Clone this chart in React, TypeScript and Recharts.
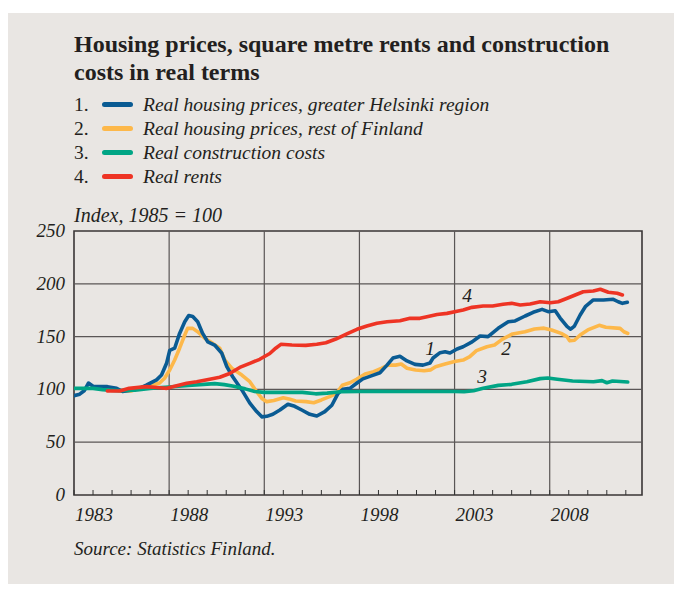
import React from 'react';
import { LineChart, Line, XAxis, YAxis, ReferenceLine, ReferenceArea, ReferenceDot } from 'recharts';

const helsinkiYears = [1983.0, 1983.3, 1983.55, 1983.76, 1984.0, 1984.24, 1984.76, 1985.24, 1985.55, 1986.08, 1986.5, 1986.8, 1987.34, 1987.6, 1987.87, 1988.03, 1988.29, 1988.55, 1988.82, 1989.03, 1989.24, 1989.5, 1989.76, 1990.03, 1990.39, 1990.76, 1991.03, 1991.34, 1991.82, 1992.24, 1992.6, 1992.87, 1993.13, 1993.45, 1993.82, 1994.24, 1994.6, 1994.97, 1995.39, 1995.76, 1996.18, 1996.55, 1996.87, 1997.13, 1997.5, 1997.87, 1998.18, 1998.66, 1999.08, 1999.45, 1999.76, 2000.13, 2000.5, 2000.92, 2001.34, 2001.71, 2001.87, 2002.24, 2002.5, 2002.76, 2003.13, 2003.45, 2003.92, 2004.34, 2004.76, 2005.29, 2005.82, 2006.18, 2006.71, 2007.13, 2007.6, 2007.92, 2008.29, 2008.55, 2008.92, 2009.1, 2009.3, 2009.6, 2009.87, 2010.29, 2010.82, 2011.34, 2011.6, 2011.82, 2012.08];
const helsinkiValues = [94, 95.5, 99, 106, 103, 102.6, 102.6, 101, 98, 99.5, 101.5, 104, 109, 113.6, 125, 137, 139, 153, 164, 170, 169, 164, 153, 145, 142, 134.5, 121.5, 112, 99.5, 87, 79, 74, 74.5, 76.5, 80.5, 86, 84, 80.5, 76.4, 74.8, 78.9, 85, 96, 100, 101, 106, 110, 113, 115.8, 123, 129.7, 131.3, 127, 123.7, 123, 125, 129.7, 134.8, 135.7, 134.5, 138.3, 140.4, 145, 150.6, 150, 157.8, 164, 164.8, 169.5, 173, 175.8, 173.6, 174.5, 167.6, 159.4, 157, 160, 170.5, 178.3, 184.7, 184.7, 185.3, 183, 181.5, 182.5];

const finlandYears = [1984.5, 1985.0, 1985.4, 1986.0, 1986.6, 1987.1, 1987.5, 1987.76, 1988.03, 1988.29, 1988.55, 1988.82, 1988.97, 1989.24, 1989.5, 1989.87, 1990.29, 1990.66, 1990.92, 1991.29, 1991.82, 1992.24, 1992.6, 1992.87, 1993.13, 1993.5, 1994.0, 1994.3, 1994.65, 1995.2, 1995.6, 1996.0, 1996.4, 1996.8, 1997.1, 1997.5, 1997.85, 1998.3, 1998.75, 1999.15, 1999.5, 1999.9, 2000.2, 2000.5, 2000.95, 2001.4, 2001.75, 2002.0, 2002.5, 2003.0, 2003.45, 2003.8, 2004.15, 2004.7, 2005.1, 2005.5, 2006.05, 2006.7, 2007.2, 2007.7, 2008.1, 2008.6, 2008.9, 2009.05, 2009.3, 2009.6, 2010.0, 2010.6, 2010.95, 2011.7, 2011.9, 2012.1];
const finlandValues = [100.5, 101.6, 98.5, 98.5, 102.6, 104, 106, 110.5, 118.4, 127.8, 139, 151.5, 157.8, 157.8, 154.6, 148.4, 143.6, 139, 127.8, 120, 113.6, 107.3, 97.8, 91.5, 88.4, 89.5, 92, 91, 89, 88.4, 87.4, 90, 93, 96.3, 104, 106.3, 109.6, 114.6, 116.8, 120, 123, 123, 124, 120, 118.4, 117.7, 118.5, 121.5, 124, 126.5, 127.8, 131, 136.7, 140.4, 142, 147.4, 152.5, 154.6, 157.2, 158, 156.3, 153, 150, 146, 146.5, 151.5, 156.3, 160.7, 158.8, 157.8, 154.6, 153];

const costYears = [1983.0, 1984.0, 1984.5, 1985.3, 1986.2, 1987.0, 1987.8, 1988.5, 1989.2, 1990.0, 1990.4, 1990.9, 1991.4, 1992.0, 1992.5, 1993.0, 1994.0, 1995.0, 1995.7, 1996.3, 1997.0, 1998.0, 1999.0, 2000.0, 2001.0, 2002.0, 2003.0, 2003.5, 2004.0, 2004.5, 2005.3, 2006.0, 2006.8, 2007.5, 2007.9, 2008.4, 2009.2, 2010.3, 2010.75, 2011.0, 2011.3, 2012.1];
const costValues = [101, 101, 99.8, 98.8, 99.2, 101, 102, 103, 104, 105, 105.5, 104.5, 103, 100.5, 98, 97.2, 97.2, 97.2, 95.8, 96.5, 97.8, 98, 98.3, 98, 98.3, 98, 98, 97.8, 98.8, 101, 103.8, 104.8, 107.3, 110.2, 110.8, 109.6, 108, 107.3, 108.3, 106.3, 108, 107];

const rentYears = [1984.75, 1985.4, 1985.9, 1986.8, 1987.5, 1987.87, 1988.29, 1988.92, 1989.45, 1990.13, 1990.66, 1991.18, 1991.71, 1992.24, 1992.76, 1993.29, 1993.6, 1993.87, 1994.45, 1995.18, 1995.76, 1996.24, 1996.76, 1997.34, 1997.87, 1998.39, 1998.92, 1999.45, 2000.13, 2000.66, 2001.18, 2001.55, 2002.08, 2002.6, 2003.13, 2003.45, 2003.92, 2004.5, 2005.0, 2005.55, 2006.0, 2006.45, 2006.97, 2007.5, 2008.03, 2008.45, 2008.92, 2009.34, 2009.76, 2010.29, 2010.66, 2011.08, 2011.55, 2011.82];
const rentValues = [98.5, 98.5, 101, 102.6, 101.6, 101, 103, 105.8, 107.3, 109.6, 111.5, 115, 120.8, 124.7, 128.5, 134, 139, 142.7, 142, 141.7, 142.7, 144.2, 147.7, 152.5, 156.9, 160, 162.6, 164, 165, 167.3, 167.3, 168.8, 171, 172, 174, 175.2, 177.7, 179, 179, 180.6, 181.5, 180, 180.9, 183, 182, 183, 186.3, 189.4, 192.5, 193.2, 194.8, 192, 191, 189.4];

const yearTicks = Array.from({ length: 30 }, (_, i) => 1983 + i);
const labelYears = [1983, 1988, 1993, 1998, 2003, 2008];
const valueTicks = [0, 50, 100, 150, 200, 250];

const legendItems = [
  { num: '1.', label: 'Real housing prices, greater Helsinki region', color: '#0a5b93' },
  { num: '2.', label: 'Real housing prices, rest of Finland', color: '#fdb84a' },
  { num: '3.', label: 'Real construction costs', color: '#00a585' },
  { num: '4.', label: 'Real rents', color: '#ee3424' },
];

const lineLabels = [
  { text: '1', year: 2001.71, value: 138 },
  { text: '2', year: 2005.71, value: 138 },
  { text: '3', year: 2004.45, value: 112 },
  { text: '4', year: 2003.66, value: 188.5 },
];

const zip = (xs: number[], ys: number[]) => xs.map((year, i) => ({ year, v: ys[i] }));

const FONT = '"Liberation Serif", "Times New Roman", serif';
const INK = '#231f20';
const BG = '#e9e6e3';

const XTick = (props: any) => {
  const { x, y, payload } = props;
  const year = payload.value;
  return (
    <g>
      <line x1={x} x2={x} y1={y} y2={y - 5} stroke="#333" strokeWidth={1} />
      {labelYears.includes(year) && (
        <text x={x + 1} y={y + 26} fill={INK} fontSize={19} fontStyle="italic" fontFamily={FONT} textAnchor="start">
          {year}
        </text>
      )}
    </g>
  );
};

const YTick = (props: any) => {
  const { x, y, payload } = props;
  return (
    <text x={x - 1} y={y + 6} fill={INK} fontSize={19} fontStyle="italic" fontFamily={FONT} textAnchor="end">
      {payload.value}
    </text>
  );
};

export default function App() {
  const series = [
    { key: 'finland', data: zip(finlandYears, finlandValues), color: legendItems[1].color },
    { key: 'helsinki', data: zip(helsinkiYears, helsinkiValues), color: legendItems[0].color },
    { key: 'cost', data: zip(costYears, costValues), color: legendItems[2].color },
    { key: 'rent', data: zip(rentYears, rentValues), color: legendItems[3].color },
  ];

  return (
    <div style={{ position: 'relative', width: 682, height: 592, margin: -8, overflow: 'hidden', background: '#fff', fontFamily: FONT, color: INK }}>
      <div style={{ position: 'absolute', left: 2, top: -11, fontSize: 18, lineHeight: '20px', fontStyle: 'italic', color: '#444' }}>Chart 2.</div>
      <div style={{ position: 'absolute', left: 8, top: 13, width: 674, height: 579, background: BG }} />

      <div style={{ position: 'absolute', left: 74, top: 31, fontSize: 24, fontWeight: 'bold', lineHeight: '27.7px', width: 600 }}>
        Housing prices, square metre rents and construction
        <br />
        costs in real terms
      </div>

      {legendItems.map((item, i) => (
        <div key={item.num} style={{ position: 'absolute', left: 0, top: 92.5 + i * 24, height: 24, width: 682, fontSize: 19.5, lineHeight: '24px', fontStyle: 'italic' }}>
          <span style={{ position: 'absolute', left: 74, fontStyle: 'normal' }}>{item.num}</span>
          <span style={{ position: 'absolute', left: 102, top: 9, width: 31, height: 5, borderRadius: 3, background: item.color }} />
          <span style={{ position: 'absolute', left: 143, whiteSpace: 'nowrap' }}>{item.label}</span>
        </div>
      ))}

      <div style={{ position: 'absolute', left: 74, top: 203, fontSize: 20, lineHeight: '24px', fontStyle: 'italic' }}>
        Index, 1985 = 100
      </div>

      <div style={{ position: 'absolute', left: 0, top: 200 }}>
        <LineChart width={682} height={340} margin={{ top: 31, right: 40, bottom: 15, left: 0 }}>
          <XAxis
            type="number"
            dataKey="year"
            domain={[1983, 2012.85]}
            ticks={yearTicks}
            tick={<XTick />}
            tickLine={false}
            tickSize={0}
            tickMargin={0}
            axisLine={false}
            height={30}
            allowDataOverflow
            interval={0}
          />
          <YAxis
            type="number"
            domain={[0, 250]}
            ticks={valueTicks}
            tick={<YTick />}
            tickLine={false}
            axisLine={false}
            width={74}
            interval={0}
          />
          {valueTicks.slice(1, -1).map((v) => (
            <ReferenceLine key={'h' + v} y={v} stroke="#5a5656" strokeWidth={1.2} />
          ))}
          {labelYears.slice(1).map((yr) => (
            <ReferenceLine key={'v' + yr} x={yr} stroke="#5a5656" strokeWidth={1.2} />
          ))}
          <ReferenceArea x1={1983} x2={2012.85} y1={0} y2={250} fill="none" stroke="#3a3636" strokeWidth={1.6} />
          {series.map((s) => (
            <Line
              key={s.key}
              data={s.data}
              dataKey="v"
              type="linear"
              stroke={s.color}
              strokeWidth={3.6}
              strokeLinejoin="round"
              strokeLinecap="round"
              dot={false}
              activeDot={false}
              isAnimationActive={false}
            />
          ))}
          {lineLabels.map((l) => (
            <ReferenceDot
              key={l.text}
              x={l.year}
              y={l.value}
              r={0}
              shape={(p: any) => (
                <text x={p.cx} y={p.cy + 6} fill={INK} fontSize={19.5} fontStyle="italic" fontFamily={FONT} textAnchor="middle">
                  {l.text}
                </text>
              )}
            />
          ))}
        </LineChart>
      </div>

      <div style={{ position: 'absolute', left: 74, top: 536.5, fontSize: 19, lineHeight: '24px', fontStyle: 'italic' }}>
        Source: Statistics Finland.
      </div>
    </div>
  );
}
